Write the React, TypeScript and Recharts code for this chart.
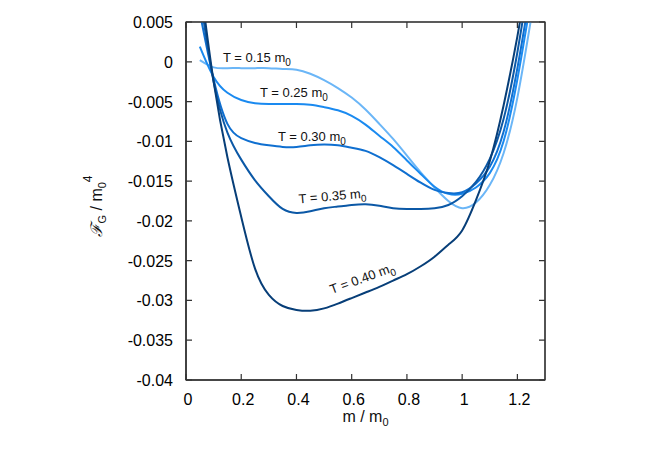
import { LineChart, Line, XAxis, YAxis, ReferenceDot, CartesianGrid } from 'recharts';

const M_VALUES = [0.05, 0.1, 0.15, 0.2, 0.25, 0.3, 0.35, 0.4, 0.45, 0.5, 0.55, 0.6, 0.65, 0.7, 0.75, 0.8, 0.85, 0.9, 0.95, 1.0, 1.05, 1.1, 1.15, 1.2, 1.25];

const T015 = [0.0002, -0.0007, -0.0008, -0.0008, -0.0008, -0.0008, -0.0009, -0.0010, -0.0015, -0.0023, -0.0033, -0.0045, -0.0060, -0.0078, -0.0097, -0.0118, -0.0139, -0.0158, -0.0175, -0.0184, -0.0177, -0.0155, -0.0115, -0.0045, 0.0055];
const T025 = [0.0019, -0.0019, -0.0039, -0.0048, -0.0052, -0.0053, -0.0053, -0.0053, -0.0054, -0.0057, -0.0061, -0.0068, -0.0079, -0.0093, -0.0107, -0.0124, -0.0141, -0.0157, -0.0166, -0.0166, -0.0158, -0.0140, -0.0100, -0.0022, 0.0080];
const T030 = [0.0062, -0.0022, -0.0078, -0.0096, -0.0102, -0.0105, -0.0107, -0.0107, -0.0105, -0.0104, -0.0105, -0.0108, -0.0112, -0.0120, -0.0130, -0.0141, -0.0152, -0.0161, -0.0165, -0.0164, -0.0153, -0.0132, -0.0088, -0.0008, 0.0095];
const T035 = [0.0085, -0.0025, -0.0089, -0.0123, -0.0149, -0.0169, -0.0185, -0.0190, -0.0188, -0.0184, -0.0182, -0.0180, -0.0179, -0.0181, -0.0184, -0.0185, -0.0185, -0.0184, -0.0180, -0.0169, -0.0151, -0.0122, -0.0072, 0.0012, 0.0120];
const T040 = [0.0105, -0.0025, -0.0120, -0.0195, -0.0260, -0.0293, -0.0307, -0.0312, -0.0313, -0.0310, -0.0304, -0.0297, -0.0290, -0.0283, -0.0275, -0.0267, -0.0257, -0.0245, -0.0230, -0.0212, -0.0174, -0.0125, -0.0055, 0.0032, 0.0130];

const X_TICKS = [0, 0.2, 0.4, 0.6, 0.8, 1, 1.2];
const Y_TICKS = [0.005, 0, -0.005, -0.01, -0.015, -0.02, -0.025, -0.03, -0.035, -0.04];
const X_DOMAIN = [0, 1.3];
const Y_DOMAIN = [-0.04, 0.005];

const SERIES = [
  { key: 't015', values: T015, label: '0.15', color: '#6bb6f7', lx: 0.134, ly: 0.0, angle: 0 },
  { key: 't025', values: T025, label: '0.25', color: '#1a8af0', lx: 0.268, ly: -0.0044, angle: 0 },
  { key: 't030', values: T030, label: '0.30', color: '#0f6fd0', lx: 0.333, ly: -0.00995, angle: 0 },
  { key: 't035', values: T035, label: '0.35', color: '#0b58a6', lx: 0.409, ly: -0.0178, angle: -5 },
  { key: 't040', values: T040, label: '0.40', color: '#073e78', lx: 0.528, ly: -0.0292, angle: -20 },
];

const data = M_VALUES.map((m, i) => {
  const row: any = { m };
  SERIES.forEach((s) => (row[s.key] = s.values[i]));
  return row;
});

const FONT = '"Liberation Sans", Arial, Helvetica, sans-serif';
const FRAME = '#333';

// plot area in px
const LEFT = 186;
const RIGHT = 545;
const TOP = 22;
const BOTTOM = 380;

const renderBottomTick = (props: any) => {
  const { x, payload } = props;
  return (
    <g>
      <path d={`M${x},${BOTTOM}v-6M${x},${TOP}v6`} stroke={FRAME} strokeWidth={1.2} fill="none" />
      <text x={x + 2} y={BOTTOM + 25} textAnchor="middle" fontSize={16} fill="#000" fontFamily={FONT}>
        {String(payload.value)}
      </text>
    </g>
  );
};

const renderLeftTick = (props: any) => {
  const { y, payload } = props;
  return (
    <g>
      <path d={`M${LEFT},${y}h6M${RIGHT},${y}h-6`} stroke={FRAME} strokeWidth={1.2} fill="none" />
      <text x={LEFT - 13} y={y + 6} textAnchor="end" fontSize={16} fill="#000" fontFamily={FONT}>
        {String(payload.value)}
      </text>
    </g>
  );
};

const curveLabel = (label: string, angle: number) => (props: any) => {
  const { cx, cy } = props;
  return (
    <text
      x={cx}
      y={cy}
      fontSize={13}
      fill="#111"
      fontFamily={FONT}
      transform={`rotate(${angle}, ${cx}, ${cy})`}
    >
      <tspan>T = {label} m</tspan>
      <tspan dy={4} fontSize={10}>0</tspan>
    </text>
  );
};

const YTitle = () => (
  <text
    x={0}
    y={0}
    transform="translate(102, 206) rotate(-90)"
    textAnchor="middle"
    fontSize={16}
    fill="#111"
    fontFamily={FONT}
  >
    <tspan fontFamily="DejaVu Serif" fontStyle="italic">ℱ</tspan>
    <tspan dy={4} fontSize={11}>G</tspan>
    <tspan dy={-4}> / m</tspan>
    <tspan dy={4} fontSize={11}>0</tspan>
    <tspan dy={-14} fontSize={12}>4</tspan>
  </text>
);

// x title plus the box around the plot area (uses the axis viewBox)
const XTitle = ({ viewBox }: any) => {
  const x0 = viewBox?.x ?? LEFT;
  const w = viewBox?.width ?? RIGHT - LEFT;
  return (
    <g>
      <rect
        x={x0}
        y={TOP}
        width={w}
        height={BOTTOM - TOP}
        fill="none"
        stroke={FRAME}
        strokeWidth={1.2}
      />
      <text x={x0 + w / 2} y={422} textAnchor="middle" fontSize={16} fill="#111" fontFamily={FONT}>
        <tspan>m / m</tspan>
        <tspan dy={4} fontSize={11}>0</tspan>
      </text>
    </g>
  );
};

export default function App() {
  return (
    <div style={{ position: 'absolute', left: 0, top: 0, background: '#fff' }}>
      <LineChart
        width={653}
        height={457}
        data={data}
        margin={{ top: TOP, right: 653 - RIGHT, bottom: 0, left: 0 }}
      >
        {/* frame: grid lines only at the plot edges */}
        <CartesianGrid
          horizontalPoints={[TOP, BOTTOM]}
          verticalPoints={[LEFT, RIGHT]}
          stroke={FRAME}
          strokeWidth={1.2}
          strokeDasharray="0"
        />
        <XAxis
          dataKey="m"
          type="number"
          domain={X_DOMAIN}
          ticks={X_TICKS}
          allowDataOverflow
          height={457 - BOTTOM}
          stroke={FRAME}
          tickLine={false}
          tick={renderBottomTick}
          label={{ content: (p: any) => <XTitle {...p} /> }}
        />
        <YAxis
          type="number"
          domain={Y_DOMAIN}
          ticks={Y_TICKS}
          allowDataOverflow
          width={LEFT}
          stroke={FRAME}
          tickLine={false}
          tick={renderLeftTick}
          label={{ content: () => <YTitle /> }}
        />
        {SERIES.map((s) => (
          <Line
            key={s.key}
            dataKey={s.key}
            type="natural"
            stroke={s.color}
            strokeWidth={2}
            dot={false}
            isAnimationActive={false}
          />
        ))}
        {SERIES.map((s) => (
          <ReferenceDot
            key={`lbl-${s.key}`}
            x={s.lx}
            y={s.ly}
            r={0}
            ifOverflow="visible"
            shape={curveLabel(s.label, s.angle)}
          />
        ))}
      </LineChart>
    </div>
  );
}
